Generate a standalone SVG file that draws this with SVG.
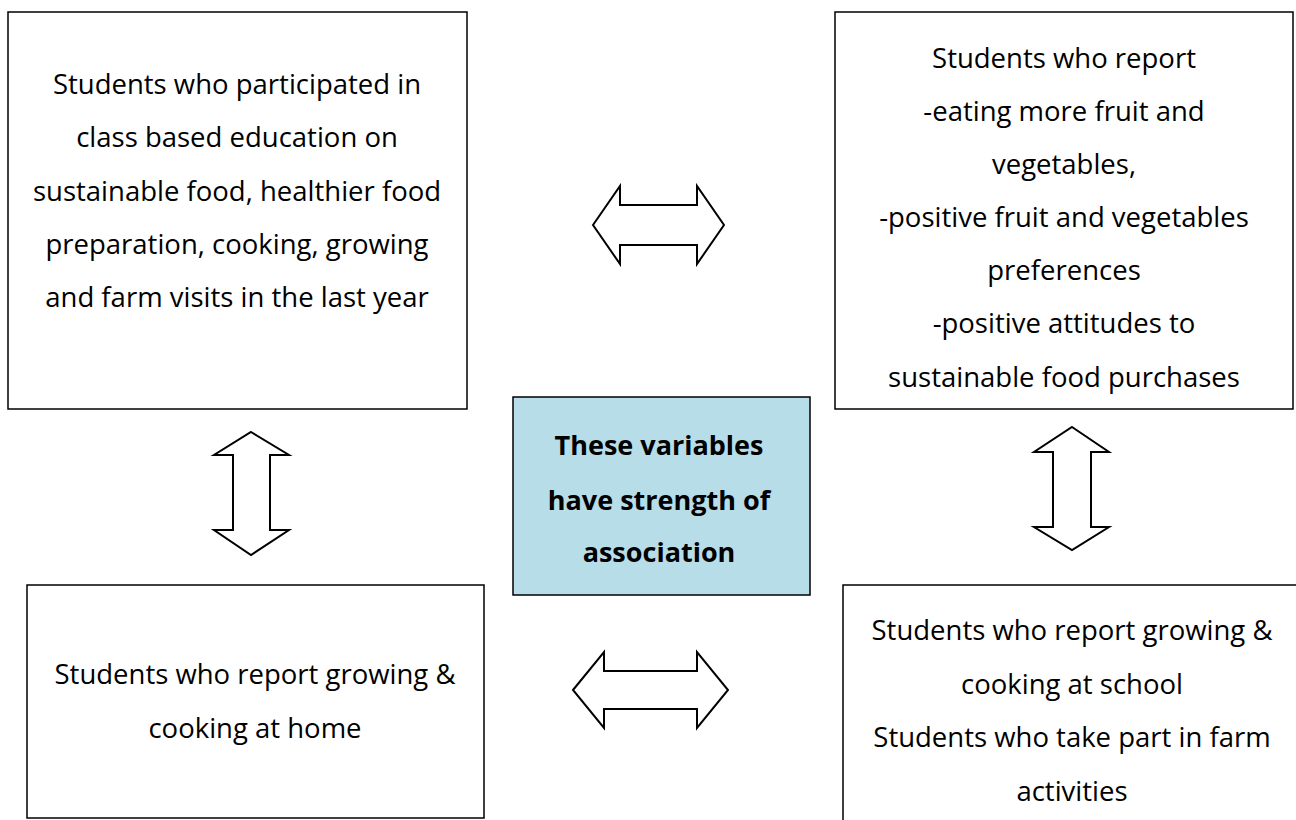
<svg xmlns="http://www.w3.org/2000/svg" width="1296" height="820" viewBox="0 0 1296 820">
<style>
.box{fill:#fff;stroke:#000;stroke-width:1.5}
.ctr{fill:#b7dde8;stroke:#000;stroke-width:1.5}
.t{font-family:"Open Sans","Noto Sans","Liberation Sans",sans-serif;font-size:27.5px;fill:#000;text-anchor:middle}
.b{font-weight:bold;font-size:27px}
.arr{fill:#fff;stroke:#000;stroke-width:2;stroke-linejoin:miter}
</style>
<rect width="1296" height="820" fill="#fff"/>
<g id="connectors">
<polygon class="arr" points="593,225 620,186 620,205 697,205 697,186 724,225 697,264 697,245 620,245 620,264"/>
<polygon class="arr" points="573,690 604,652 604,671 697,671 697,652 728,690 697,728 697,709 604,709 604,728"/>
<polygon class="arr" points="251,432 289,455 270,455 270,530 289,530 251,555 214,530 233,530 233,455 214,455"/>
<polygon class="arr" points="1072,427 1109,452 1091,452 1091,527 1109,527 1072,550 1034,527 1053,527 1053,452 1034,452"/>
</g>
<g id="node-education">
<rect class="box" x="8" y="12" width="459" height="397"/>
<text class="t" x="237" y="94">Students who participated in</text>
<text class="t" x="237" y="147">class based education on</text>
<text class="t" x="237" y="201">sustainable food, healthier food</text>
<text class="t" x="237" y="254">preparation, cooking, growing</text>
<text class="t" x="237" y="307">and farm visits in the last year</text>
</g>
<g id="node-report">
<rect class="box" x="835" y="12" width="458" height="397"/>
<text class="t" x="1064" y="68">Students who report</text>
<text class="t" x="1064" y="121">-eating more fruit and</text>
<text class="t" x="1064" y="174">vegetables,</text>
<text class="t" x="1064" y="227">-positive fruit and vegetables</text>
<text class="t" x="1064" y="280">preferences</text>
<text class="t" x="1064" y="333">-positive attitudes to</text>
<text class="t" x="1064" y="387">sustainable food purchases</text>
</g>
<g id="node-center">
<rect class="ctr" x="513" y="397" width="297" height="198"/>
<text class="t b" x="659" y="455">These variables</text>
<text class="t b" x="659" y="510">have strength of</text>
<text class="t b" x="659" y="562">association</text>
</g>
<g id="node-home">
<rect class="box" x="27" y="585" width="457" height="233"/>
<text class="t" x="255" y="684">Students who report growing &amp;</text>
<text class="t" x="255" y="738">cooking at home</text>
</g>
<g id="node-school">
<rect class="box" x="843" y="585" width="470" height="250"/>
<text class="t" x="1072" y="640">Students who report growing &amp;</text>
<text class="t" x="1072" y="694">cooking at school</text>
<text class="t" x="1072" y="747">Students who take part in farm</text>
<text class="t" x="1072" y="801">activities</text>
</g>
</svg>
